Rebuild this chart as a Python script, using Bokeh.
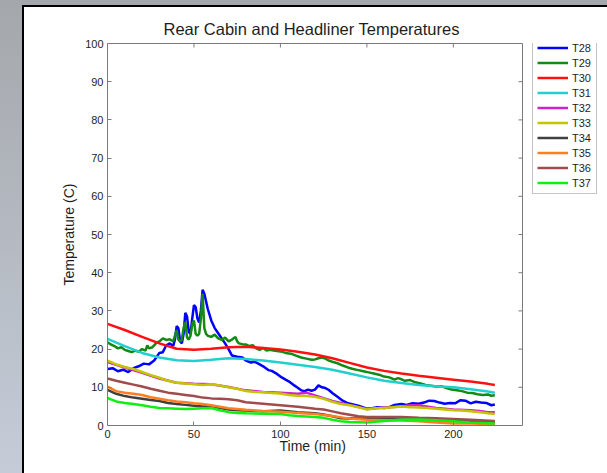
from bokeh.plotting import figure
from bokeh.models import Legend, LegendItem, FixedTicker, Range1d, LinearAxis, Title
from bokeh.embed import file_html
from bokeh.resources import INLINE

title_text = "Rear Cabin and Headliner Temperatures"
x_label = "Time (min)"
y_label = "Temperature (C)"
x_ticks = [0, 50, 100, 150, 200]
y_ticks = [0, 10, 20, 30, 40, 50, 60, 70, 80, 90, 100]
x_min, x_max = 0, 240
y_min, y_max = 0, 100

names = ["T28", "T29", "T30", "T31", "T32", "T33", "T34", "T35", "T36", "T37"]
colors = ["#0000ff", "#138a13", "#ff1010", "#22cfcf", "#d020d0", "#c4c400",
          "#404040", "#ff7f20", "#a04c4c", "#10f010"]

t28_x = [0, 3, 6, 9, 12, 15, 18, 21, 24, 27, 30, 32, 34, 36, 38, 39, 40, 41, 42, 43, 44, 45, 46, 47, 48,
         49, 50, 51, 52, 53, 54, 55, 56, 58, 60, 62, 65, 68, 70, 72, 75, 78, 80, 83, 85, 88, 90, 93, 95,
         98, 100, 103, 105, 108, 110, 112, 114, 116, 118, 120, 122, 124, 126, 128, 130, 133, 136, 139,
         142, 145, 148, 150, 153, 156, 160, 163, 166, 170, 173, 176, 180, 183, 186, 189, 192, 195, 198,
         201, 204, 207, 210, 213, 216, 219, 222, 224]
t28_y = [14.8, 15.0, 14.2, 14.6, 14.0, 15.0, 15.5, 16.2, 16.0, 17.0, 19.0, 19.2, 21.0, 21.5, 20.8, 22.5,
         26.0, 25.5, 22.0, 21.5, 24.0, 29.5, 28.5, 24.5, 24.0, 28.0, 31.5, 31.0, 28.0, 27.0, 30.0, 35.5,
         34.5, 30.5, 27.5, 25.5, 23.5, 21.5, 20.0, 18.3, 18.0, 17.8, 17.0, 16.5, 16.7, 16.0, 15.5, 14.5,
         14.3, 13.5, 12.8, 12.0, 11.5, 10.5, 9.9, 9.2, 9.0, 9.4, 9.1, 9.4, 10.5, 10.0, 9.8, 9.3, 8.5, 7.5,
         6.5, 5.8, 5.5, 5.2, 4.7, 4.4, 4.5, 4.8, 4.6, 4.8, 5.4, 5.6, 5.4, 5.8, 5.7, 6.0, 6.5, 6.4, 6.0,
         5.7, 5.9, 5.8, 6.6, 6.5, 5.8, 6.2, 6.0, 5.9, 5.3, 5.5]

t29_x = [0, 2, 4, 6, 8, 10, 12, 14, 16, 18, 20, 22, 23, 24, 26, 28, 30, 32, 34, 36, 38, 39, 40, 41, 42,
         43, 44, 45, 46, 47, 48, 49, 50, 51, 52, 53, 54, 55, 56, 57, 58, 60, 62, 64, 66, 68, 70, 72, 74,
         75, 76, 78, 80, 82, 84, 86, 88, 90, 92, 94, 96, 98, 100, 103, 106, 109, 112, 115, 118, 120, 122,
         124, 126, 128, 130, 133, 136, 139, 142, 145, 148, 151, 154, 157, 160, 163, 166, 168, 170, 172,
         175, 178, 181, 184, 187, 190, 193, 196, 199, 202, 205, 208, 211, 214, 217, 220, 222, 224]
t29_y = [21.8, 21.2, 20.8, 20.2, 20.5, 19.8, 19.5, 19.2, 19.6, 19.3, 20.0, 19.6, 21.0, 20.2, 20.5, 21.5,
         22.0, 22.8, 22.4, 22.6, 22.0, 23.5, 25.0, 22.5, 22.0, 22.5, 25.5, 27.0, 23.0, 22.5, 23.5, 26.5,
         27.5, 24.0, 23.5, 24.0, 28.0, 34.5, 25.5, 24.0, 23.5, 23.2, 23.8, 22.8, 22.4, 23.0, 22.0, 22.5,
         23.2, 22.0, 21.5, 21.3, 21.2, 20.8, 21.0, 20.2, 19.8, 20.3, 19.6, 19.8, 19.6, 19.5, 19.4, 19.0,
         18.8, 18.3, 17.8, 17.5, 17.2, 17.3, 17.6, 17.8, 17.5, 17.0, 16.7, 16.3, 15.7, 15.2, 14.8, 14.5,
         14.2, 13.9, 13.6, 13.3, 12.8, 12.6, 12.0, 12.4, 12.1, 11.7, 11.9, 11.3, 11.0, 10.6, 10.4, 10.2,
         10.3, 9.8, 9.4, 9.2, 9.0, 8.6, 8.5, 8.2, 8.0, 8.1, 7.8, 7.9]

t30_x = [0, 10, 20, 30, 40, 50, 60, 70, 80, 90, 100, 110, 120, 130, 140, 150, 160, 170, 180, 190, 200,
         210, 220, 224]
t30_y = [26.6, 25.0, 23.2, 21.5, 20.1, 19.8, 20.1, 20.5, 20.6, 20.3, 19.9, 19.3, 18.6, 17.6, 16.4, 15.2,
         14.3, 13.6, 13.0, 12.5, 12.0, 11.5, 10.9, 10.6]

t31_x = [0, 10, 20, 30, 40, 50, 60, 70, 80, 90, 100, 110, 120, 130, 140, 150, 160, 170, 180, 190, 200,
         210, 220, 224]
t31_y = [22.7, 20.8, 19.0, 17.8, 17.1, 16.9, 17.2, 17.6, 17.4, 17.0, 16.5, 15.9, 15.3, 14.6, 13.6, 12.6,
         11.7, 11.1, 10.6, 10.3, 10.0, 9.5, 8.9, 8.6]

t32_x = [0, 10, 20, 30, 40, 50, 60, 70, 80, 90, 100, 110, 115, 120, 130, 140, 150, 160, 170, 175, 180,
         190, 200, 210, 215, 220, 224]
t32_y = [16.6, 15.2, 13.8, 12.3, 11.2, 10.9, 10.8, 10.1, 9.2, 8.8, 8.6, 8.3, 8.6, 7.9, 6.4, 5.4, 4.3,
         4.7, 5.0, 5.3, 5.3, 4.6, 4.2, 4.0, 3.8, 3.5, 3.5]

t33_x = [0, 5, 10, 15, 20, 25, 30, 35, 40, 45, 50, 55, 60, 65, 70, 75, 80, 85, 90, 95, 100, 105, 110,
         115, 120, 125, 130, 135, 140, 145, 150, 155, 160, 165, 170, 175, 180, 185, 190, 195, 200, 205,
         210, 215, 220, 224]
t33_y = [17.0, 16.0, 15.3, 14.8, 14.0, 13.2, 12.5, 11.7, 11.2, 11.0, 10.8, 10.6, 10.8, 10.5, 10.0, 9.6,
         9.0, 8.8, 8.7, 8.5, 8.4, 8.0, 7.8, 7.7, 7.5, 7.0, 6.2, 5.6, 5.3, 4.8, 4.2, 4.5, 4.6, 4.8, 5.0,
         4.8, 4.7, 4.6, 4.4, 4.2, 4.0, 3.9, 3.7, 3.5, 3.2, 3.0]

t34_x = [0, 5, 10, 15, 20, 25, 30, 35, 40, 45, 50, 55, 60, 65, 70, 75, 80, 90, 100, 110, 120, 125, 130,
         135, 140, 150, 160, 170, 180, 190, 200, 210, 224]
t34_y = [9.3, 8.3, 7.7, 7.3, 7.0, 6.7, 6.4, 5.9, 5.6, 5.4, 5.2, 5.0, 5.1, 4.6, 4.2, 4.0, 3.9, 3.7, 3.9,
         3.5, 3.2, 2.9, 2.4, 1.9, 1.8, 1.8, 1.7, 1.6, 1.5, 1.4, 1.3, 1.2, 1.0]

t35_x = [0, 5, 10, 15, 20, 25, 30, 35, 40, 45, 50, 55, 60, 65, 70, 75, 80, 90, 100, 110, 120, 130, 140,
         150, 160, 170, 180, 190, 200, 210, 224]
t35_y = [10.2, 9.0, 8.6, 8.3, 8.0, 7.4, 7.0, 6.6, 6.3, 6.1, 5.8, 5.6, 5.3, 4.9, 4.5, 4.3, 4.1, 3.8, 3.6,
         3.3, 3.0, 2.5, 1.8, 1.5, 1.4, 1.3, 1.1, 0.8, 0.5, 0.5, 0.3]

t36_x = [0, 5, 10, 15, 20, 25, 30, 35, 40, 45, 50, 55, 60, 65, 70, 75, 80, 85, 90, 95, 100, 110, 120,
         125, 130, 135, 140, 145, 150, 160, 170, 180, 190, 200, 210, 224]
t36_y = [12.3, 11.7, 11.2, 10.7, 10.2, 9.6, 9.1, 8.6, 8.3, 8.0, 7.7, 7.3, 7.1, 7.0, 6.9, 6.6, 6.1, 5.9,
         5.7, 5.5, 5.3, 4.9, 4.4, 4.2, 3.7, 3.2, 2.8, 2.4, 2.2, 2.2, 2.2, 2.0, 1.9, 1.7, 1.5, 1.2]

t37_x = [0, 5, 10, 15, 20, 25, 30, 35, 40, 45, 50, 55, 60, 65, 70, 75, 80, 90, 100, 105, 110, 120, 125,
         130, 135, 140, 150, 160, 170, 180, 190, 200, 210, 224]
t37_y = [7.2, 6.3, 5.9, 5.6, 5.3, 4.9, 4.6, 4.5, 4.4, 4.3, 4.4, 4.5, 4.6, 4.0, 3.5, 3.3, 3.2, 3.1, 3.0,
         2.7, 2.5, 2.2, 2.0, 1.5, 1.1, 0.9, 0.8, 1.2, 1.5, 1.6, 1.4, 1.1, 0.8, 0.5]

series_x = [t28_x, t29_x, t30_x, t31_x, t32_x, t33_x, t34_x, t35_x, t36_x, t37_x]
series_y = [t28_y, t29_y, t30_y, t31_y, t32_y, t33_y, t34_y, t35_y, t36_y, t37_y]

FONT = "Liberation Sans"
AX = "#7a7a7a"
TXT = "#1e1e1e"

W, H = 607, 473
B_LEFT, B_RIGHT, B_TOP, B_BOTTOM = 107, 4, 43, 48
BOX_W = 415                       # width of the axes box in pixels
FRAME_W = W - B_LEFT - B_RIGHT    # frame also holds the legend to the right of the box
FRAME_H = H - B_TOP - B_BOTTOM
x_view_max = x_max * FRAME_W / BOX_W

p = figure(width=W, height=H, output_backend="svg", toolbar_location=None,
           x_range=Range1d(x_min, x_view_max), y_range=Range1d(y_min, y_max),
           min_border_left=B_LEFT, min_border_right=B_RIGHT, min_border_top=B_TOP,
           min_border_bottom=B_BOTTOM, y_axis_label=y_label)

p.border_fill_alpha = 0
p.background_fill_color = "white"
p.outline_line_color = None
p.styles = {
    "background": "linear-gradient(#ffffff,#ffffff) 24px 7px / 100% 100% no-repeat, "
                  "linear-gradient(#000000,#000000) 22px 5px / 100% 100% no-repeat, "
                  "linear-gradient(to bottom, #a4a7ab, #c5ccd8)"
}

p.title.text = title_text
p.title.align = "left"
p.title.offset = 56
p.title.text_font = FONT
p.title.text_font_size = "16.5px"
p.title.text_font_style = "normal"
p.title.text_color = TXT
p.title.standoff = 12

p.xgrid.visible = False
p.ygrid.visible = False

for ax in [p.xaxis[0], p.yaxis[0]]:
    ax.axis_line_color = AX
    ax.major_tick_line_color = AX
    ax.major_tick_in = 4
    ax.major_tick_out = 0
    ax.minor_tick_in = 0
    ax.minor_tick_out = 0
    ax.major_label_text_font = FONT
    ax.major_label_text_font_size = "11px"
    ax.major_label_text_color = TXT
    ax.axis_label_text_font = FONT
    ax.axis_label_text_font_size = "14px"
    ax.axis_label_text_font_style = "normal"
    ax.axis_label_text_color = TXT
    ax.major_label_standoff = 4

p.xaxis[0].ticker = FixedTicker(ticks=x_ticks)
p.xaxis[0].bounds = (x_min, x_max)
p.yaxis[0].ticker = FixedTicker(ticks=y_ticks)
p.yaxis[0].axis_label_standoff = 5

# x-axis label, centred under the axes box (not under the wider frame)
xlab = Title(text=x_label, align="left", offset=172, text_font=FONT, text_font_size="14px",
             text_font_style="normal", text_color=TXT, vertical_align="top", standoff=-6)
p.add_layout(xlab, "below")

# top edge of the box
top = LinearAxis(ticker=FixedTicker(ticks=[]), bounds=(x_min, x_max))
top.axis_line_color = AX
top.major_tick_in = 0
top.major_tick_out = 0
top.minor_tick_in = 0
top.minor_tick_out = 0
top.major_label_standoff = 0
p.add_layout(top, "above")

# right edge of the box
p.segment(x0=[x_max], y0=[y_min], x1=[x_max], y1=[y_max], line_color=AX, line_width=1)

# inward tick marks on the top and right edges of the box (4 px long)
tick_len_y = 4 * (y_max - y_min) / FRAME_H
tick_len_x = 4 * (x_max - x_min) / BOX_W
p.segment(x0=x_ticks, y0=[y_max] * len(x_ticks), x1=x_ticks, y1=[y_max - tick_len_y] * len(x_ticks),
          line_color=AX, line_width=1)
p.segment(x0=[x_max] * len(y_ticks), y0=y_ticks, x1=[x_max - tick_len_x] * len(y_ticks), y1=y_ticks,
          line_color=AX, line_width=1)

items = []
for name, col, xs, ys in zip(names, colors, series_x, series_y):
    r = p.line(xs, ys, line_color=col, line_width=2.5)
    items.append(LegendItem(label=name, renderers=[r]))

LEG_H = 151
legend = Legend(items=items, location=(BOX_W + 10, FRAME_H - LEG_H))
legend.label_text_font = FONT
legend.label_text_font_size = "11px"
legend.label_text_color = TXT
legend.glyph_width = 31
legend.glyph_height = 13
legend.label_height = 13
legend.label_standoff = 4
legend.spacing = 2
legend.padding = 4
legend.margin = 0
legend.border_line_color = "#8a8a8a"
legend.border_line_width = 1
legend.background_fill_color = "white"
legend.background_fill_alpha = 1
p.add_layout(legend, "center")

open("out.html", "w").write(file_html(p, INLINE))
